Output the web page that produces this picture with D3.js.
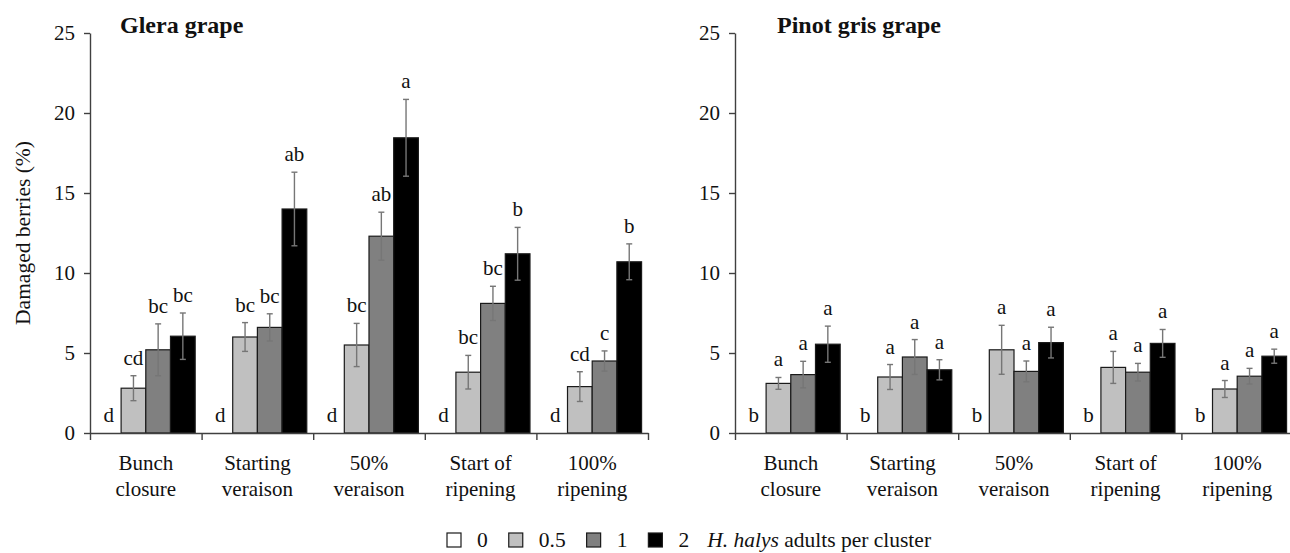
<!DOCTYPE html>
<html>
<head>
<meta charset="utf-8">
<script src="https://cdn.jsdelivr.net/npm/d3@7/dist/d3.min.js"></script>
<style>
  html, body { margin: 0; padding: 0; background: #fff; }
  svg { display: block; }
  text { font-family: "Liberation Serif", "Times New Roman", serif; fill: #111; }
</style>
</head>
<body>
<script>
// Phenological stages (category axis), two lines per label
const stages = ["Bunch closure", "Starting veraison", "50% veraison", "Start of ripening", "100% ripening"];
const stageLines = [["Bunch", "closure"], ["Starting", "veraison"], ["50%", "veraison"], ["Start of", "ripening"], ["100%", "ripening"]];

// Infestation levels (H. halys adults per cluster)
const densities = ["0", "0.5", "1", "2"];
const densityColors = ["#ffffff", "#c0c0c0", "#808080", "#000000"];

const yTicks = [0, 5, 10, 15, 20, 25];

// Glera: mean damaged berries (%) and standard errors per density
const gleraMean0 = [0, 0, 0, 0, 0];
const gleraMean05 = [2.8, 6.0, 5.5, 3.8, 2.9];
const gleraMean1 = [5.2, 6.6, 12.3, 8.1, 4.5];
const gleraMean2 = [6.05, 14.0, 18.45, 11.2, 10.7];
const gleraSE0 = [0, 0, 0, 0, 0];
const gleraSE05 = [0.78, 0.9, 1.35, 1.05, 0.93];
const gleraSE1 = [1.62, 0.85, 1.5, 1.07, 0.63];
const gleraSE2 = [1.45, 2.3, 2.4, 1.65, 1.12];
const gleraLetters0 = ["d", "d", "d", "d", "d"];
const gleraLetters05 = ["cd", "bc", "bc", "bc", "cd"];
const gleraLetters1 = ["bc", "bc", "ab", "bc", "c"];
const gleraLetters2 = ["bc", "ab", "a", "b", "b"];

// Pinot gris: mean damaged berries (%) and standard errors per density
const pinotMean0 = [0, 0, 0, 0, 0];
const pinotMean05 = [3.1, 3.5, 5.2, 4.1, 2.75];
const pinotMean1 = [3.65, 4.75, 3.85, 3.8, 3.55];
const pinotMean2 = [5.55, 3.95, 5.65, 5.6, 4.8];
const pinotSE0 = [0, 0, 0, 0, 0];
const pinotSE05 = [0.37, 0.78, 1.53, 1.0, 0.53];
const pinotSE1 = [0.83, 1.09, 0.65, 0.55, 0.49];
const pinotSE2 = [1.13, 0.63, 0.96, 0.87, 0.44];
const pinotLetters0 = ["b", "b", "b", "b", "b"];
const pinotLetters05 = ["a", "a", "a", "a", "a"];
const pinotLetters1 = ["a", "a", "a", "a", "a"];
const pinotLetters2 = ["a", "a", "a", "a", "a"];

const panels = [
  {
    title: "Glera grape", titleX: 120, left: 90,
    means: [gleraMean0, gleraMean05, gleraMean1, gleraMean2],
    se: [gleraSE0, gleraSE05, gleraSE1, gleraSE2],
    letters: [gleraLetters0, gleraLetters05, gleraLetters1, gleraLetters2]
  },
  {
    title: "Pinot gris grape", titleX: 777, left: 735,
    means: [pinotMean0, pinotMean05, pinotMean1, pinotMean2],
    se: [pinotSE0, pinotSE05, pinotSE1, pinotSE2],
    letters: [pinotLetters0, pinotLetters05, pinotLetters1, pinotLetters2]
  }
];

const W = 1290, H = 553;
const plotTop = 33, plotBottom = 433, panelWidth = 558;
const axisColor = "#404040";

const svg = d3.select("body").append("svg").attr("width", W).attr("height", H);

const y = d3.scaleLinear().domain([0, 25]).range([plotBottom, plotTop]);

panels.forEach(p => {
  const g = svg.append("g");
  const x0 = d3.scaleBand().domain(stages).range([p.left, p.left + panelWidth]).paddingInner(0).paddingOuter(0);
  const x1 = d3.scaleBand().domain(densities).range([0, x0.bandwidth()]).paddingInner(0).paddingOuter(0.26);

  // Title
  g.append("text")
    .attr("x", p.titleX).attr("y", 33)
    .attr("font-size", 24).attr("font-weight", "bold")
    .text(p.title);

  // Flatten into one record per bar
  const rows = [];
  stages.forEach((s, i) => {
    densities.forEach((d, j) => {
      rows.push({ stage: s, density: d, j, mean: p.means[j][i], se: p.se[j][i], letter: p.letters[j][i] });
    });
  });

  // Bars
  g.selectAll("rect.bar").data(rows).join("rect")
    .attr("class", "bar")
    .attr("x", d => x0(d.stage) + x1(d.density))
    .attr("y", d => y(d.mean))
    .attr("width", x1.bandwidth())
    .attr("height", d => y(0) - y(d.mean))
    .attr("fill", d => densityColors[d.j])
    .attr("stroke", "#1a1a1a")
    .attr("stroke-width", 1.2)
    .style("display", d => d.mean > 0 ? null : "none");

  // Error bars
  const eb = rows.filter(d => d.se > 0);
  const cx = d => x0(d.stage) + x1(d.density) + x1.bandwidth() / 2;
  const err = g.append("g").attr("stroke", "#767676").attr("stroke-width", 1.4);
  err.selectAll("line.v").data(eb).join("line").attr("class", "v")
    .attr("x1", cx).attr("x2", cx)
    .attr("y1", d => y(d.mean + d.se)).attr("y2", d => y(d.mean - d.se));
  err.selectAll("line.t").data(eb).join("line").attr("class", "t")
    .attr("x1", d => cx(d) - 3).attr("x2", d => cx(d) + 3)
    .attr("y1", d => y(d.mean + d.se)).attr("y2", d => y(d.mean + d.se));
  err.selectAll("line.b").data(eb).join("line").attr("class", "b")
    .attr("x1", d => cx(d) - 3).attr("x2", d => cx(d) + 3)
    .attr("y1", d => y(d.mean - d.se)).attr("y2", d => y(d.mean - d.se));

  // Significance letters
  g.selectAll("text.letter").data(rows).join("text")
    .attr("class", "letter")
    .attr("x", cx)
    .attr("y", d => y(d.mean + d.se) - 11)
    .attr("text-anchor", "middle")
    .attr("font-size", 21)
    .text(d => d.letter);

  // Y axis
  const yAxis = g.append("g").attr("transform", `translate(${p.left},0)`)
    .call(d3.axisLeft(y).tickValues(yTicks).tickSize(6).tickPadding(9).tickSizeOuter(0));
  yAxis.select(".domain").attr("stroke", axisColor).attr("stroke-width", 1.4);
  yAxis.selectAll(".tick line").attr("stroke", axisColor).attr("stroke-width", 1.4);
  yAxis.selectAll(".tick text").attr("font-size", 21).attr("fill", "#111")
    .style("font-family", '"Liberation Serif", "Times New Roman", serif');

  // X axis with ticks at category boundaries
  const xb = d3.scaleLinear().domain([0, stages.length]).range([p.left, p.left + panelWidth]);
  const xAxis = g.append("g").attr("transform", `translate(0,${plotBottom})`)
    .call(d3.axisBottom(xb).tickValues(d3.range(stages.length + 1)).tickSize(7).tickSizeOuter(0).tickFormat(""));
  xAxis.select(".domain").attr("stroke", axisColor).attr("stroke-width", 1.4);
  xAxis.selectAll(".tick line").attr("stroke", axisColor).attr("stroke-width", 1.4);

  // Category labels
  const cat = g.selectAll("text.cat").data(stages).join("text")
    .attr("class", "cat")
    .attr("text-anchor", "middle")
    .attr("font-size", 21)
    .attr("transform", d => `translate(${x0(d) + x0.bandwidth() / 2},0)`);
  cat.selectAll("tspan").data((d, i) => stageLines[i]).join("tspan")
    .attr("x", 0)
    .attr("y", (d, k) => 470 + k * 26)
    .text(d => d);
});

// Y axis title
svg.append("text")
  .attr("transform", `translate(30,${(plotTop + plotBottom) / 2}) rotate(-90)`)
  .attr("text-anchor", "middle")
  .attr("font-size", 21.5)
  .text("Damaged berries (%)");

// Legend
const legend = svg.append("g");
let lx = 447;
const ly = 547;
densities.forEach((d, j) => {
  legend.append("rect")
    .attr("x", lx).attr("y", ly - 14)
    .attr("width", 14).attr("height", 14)
    .attr("fill", densityColors[j])
    .attr("stroke", "#1a1a1a").attr("stroke-width", 1.2);
  const t = legend.append("text")
    .attr("x", lx + 30).attr("y", ly)
    .attr("font-size", 21.5)
    .text(d);
  lx += 30 + t.node().getComputedTextLength() + (j < densities.length - 1 ? 21 : 18);
});
const lt = legend.append("text").attr("x", lx).attr("y", ly).attr("font-size", 21.5);
lt.append("tspan").attr("font-style", "italic").text("H. halys");
lt.append("tspan").text(" adults per cluster");
</script>
</body>
</html>
